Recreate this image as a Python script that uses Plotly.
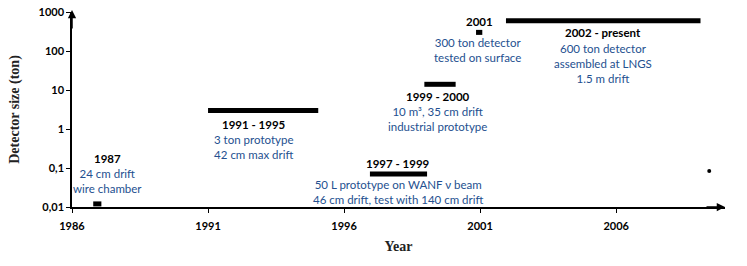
import plotly.graph_objects as go

# ---- data ----
labels = ["1987", "1991 - 1995", "1997 - 1999", "1999 - 2000", "2001", "2002 - present"]
start_year = [1986.78, 1991.0, 1996.95, 1998.95, 2000.85, 2001.95]
end_year = [1987.08, 1995.05, 1999.05, 2000.1, 2001.08, 2009.1]
size_ton = [0.012, 3.0, 0.07, 14.0, 300.0, 600.0]
descriptions = [
    "24 cm drift<br>wire chamber",
    "3 ton prototype<br>42 cm max drift",
    "50 L prototype on WANF \u03bd beam<br>46 cm drift, test with 140 cm drift",
    "10 m\u00b3, 35 cm drift<br>industrial prototype",
    "300 ton detector<br>tested on surface",
    "600 ton detector<br>assembled at LNGS<br>1.5 m drift",
]
stray_x = [2009.42]
stray_y = [0.084]

x_ticks = [1986, 1991, 1996, 2001, 2006]
y_ticks = [0.01, 0.1, 1, 10, 100, 1000]
y_ticktext = ["0,01", "0,1", "1", "10", "100", "1000"]

BLUE = "#24508f"
FONT = "Lato"

fig = go.Figure()
for s, e, v in zip(start_year, end_year, size_ton):
    fig.add_trace(go.Scatter(x=[s, e], y=[v, v], mode="lines",
                             line=dict(color="black", width=5),
                             showlegend=False, hoverinfo="skip"))
fig.add_trace(go.Scatter(x=stray_x, y=stray_y, mode="markers",
                         marker=dict(color="black", size=4),
                         showlegend=False, hoverinfo="skip"))

# annotation layout (positions in data units; y in log10)
lab_pos = [(1987.32, -0.769), (1992.69, 0.128), (1997.98, -0.872), (1999.45, 0.846), (2000.96, 2.744), (2005.51, 2.462)]
desc_pos = [(1987.32, -1.346), (1992.69, -0.449), (1997.98, -1.603), (1999.45, 0.269), (2000.92, 2.013), (2005.51, 1.692)]

anns = []
for i in range(len(labels)):
    lx, ly = lab_pos[i]
    anns.append(dict(x=lx, y=ly, xref="x", yref="y", text=labels[i], showarrow=False,
                     font=dict(family=FONT, size=11.5, color="black", weight="bold"),
                     xanchor="center", yanchor="middle"))
    dx, dy = desc_pos[i]
    anns.append(dict(x=dx, y=dy, xref="x", yref="y", text=descriptions[i], showarrow=False,
                     font=dict(family=FONT, size=11.5, color=BLUE), xanchor="center", yanchor="middle"))

# axis arrows
anns.append(dict(x=1.0, y=0, xref="paper", yref="paper", ax=-20, ay=0, text="", showarrow=True,
                 arrowhead=2, arrowsize=1.1, arrowwidth=1.5, arrowcolor="black"))
anns.append(dict(x=0, y=1.01, xref="paper", yref="paper", ax=0, ay=20, text="", showarrow=True,
                 arrowhead=2, arrowsize=1.1, arrowwidth=1.5, arrowcolor="black"))

fig.update_layout(
    width=747, height=266,
    margin=dict(l=72, r=22, t=12, b=59, autoexpand=False),
    paper_bgcolor="white", plot_bgcolor="white",
    annotations=anns,
    xaxis=dict(range=[1986, 2010], tickvals=x_ticks, ticktext=[str(t) for t in x_ticks],
               automargin=False,
               showgrid=False, zeroline=False, showline=True, linecolor="black", linewidth=1.5,
               ticks="outside", ticklen=4, tickwidth=1.2, tickcolor="black", ticklabelstandoff=4,
               tickfont=dict(family=FONT, size=11, color="black", weight="bold"),
               title=dict(text="<b>Year</b>", font=dict(family="Liberation Serif", size=14, color="#222"), standoff=10)),
    yaxis=dict(type="log", range=[-2, 3], tickvals=y_ticks, ticktext=y_ticktext,
               automargin=False,
               showgrid=False, zeroline=False, showline=True, linecolor="black", linewidth=1.5,
               ticks="outside", ticklen=4, tickwidth=1.2, tickcolor="black",
               tickfont=dict(family=FONT, size=11, color="black", weight="bold"),
               title=dict(text="<b>Detector size (ton)</b>", font=dict(family="Liberation Serif", size=14, color="#222"), standoff=16)),
)

# remove the default 8px page margin so the figure sits at the window origin
fig.write_html("out.html", config={"displayModeBar": False},
               post_script="document.body.style.margin='0';")
